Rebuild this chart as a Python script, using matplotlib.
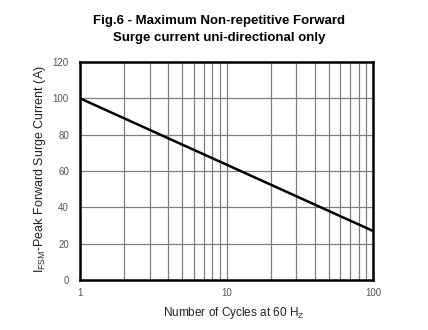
import matplotlib
matplotlib.use("Agg")
import matplotlib.pyplot as plt
import numpy as np

plt.rcParams['font.family'] = ['Liberation Sans', 'DejaVu Sans']
plt.rcParams['mathtext.fontset'] = 'custom'
plt.rcParams['mathtext.rm'] = 'Liberation Sans'

cycles = [1, 100]
current = [100, 27]
y_ticks = [0, 20, 40, 60, 80, 100, 120]
x_ticks = [1, 10, 100]
x_tick_labels = ['1', '10', '100']

fig = plt.figure(figsize=(4.28, 3.30), dpi=100)
ax = fig.add_axes([80/428, 1-280/330, 293/428, 218/330])

ax.set_xscale('log')
ax.set_xlim(1, 100)
ax.set_ylim(0, 120)

minor = [m * d for d in (1, 10) for m in range(2, 10)]
for x in minor:
    ax.axvline(x, color='#7f7f7f', lw=0.9, zorder=1)
ax.axvline(10, color='#7f7f7f', lw=0.9, zorder=1)
for y in y_ticks[1:-1]:
    ax.axhline(y, color='#7f7f7f', lw=0.9, zorder=1)

ax.plot(cycles, current, color='black', lw=1.8, zorder=3)

ax.set_xticks(x_ticks)
ax.set_xticklabels(x_tick_labels)
ax.set_xticks([], minor=True)
ax.set_yticks(y_ticks)
ax.tick_params(axis='both', length=0, labelsize=7, colors='#555555')
ax.tick_params(axis='x', pad=6)
ax.tick_params(axis='y', pad=8)
for s in ax.spines.values():
    s.set_linewidth(1.8)
    s.set_color('black')

fig.text(219/428, 1-21/330, 'Fig.6 - Maximum Non-repetitive Forward', ha='center', va='center',
         fontsize=9.5, fontweight='bold')
fig.text(219/428, 1-38/330, 'Surge current uni-directional only', ha='center', va='center',
         fontsize=9.5, fontweight='bold')

fig.text(40/428, 1-169/330, r'I$_{\mathrm{FSM}}$-Peak Forward Surge Current (A)', rotation=90,
         ha='center', va='center', fontsize=9, color='#222222')
fig.text(234/428, 1-313/330, r'Number of Cycles at 60 H$_{\mathrm{Z}}$', ha='center', va='center',
         fontsize=8.5, color='#222222')

fig.savefig('out.png', dpi=100)
